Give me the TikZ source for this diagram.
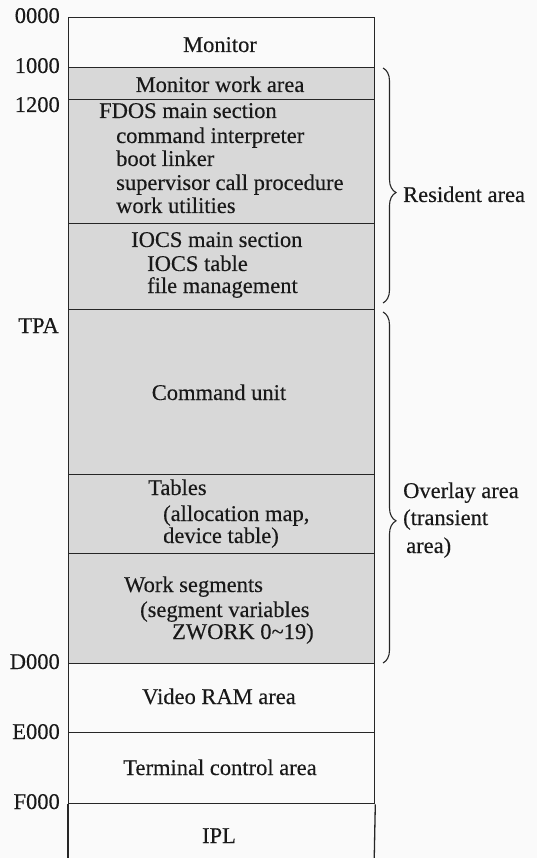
\documentclass[tikz,border=0pt]{standalone}
\usepackage{fontspec}
\setmainfont{Liberation Serif}[FakeBold=0.25]
\usetikzlibrary{decorations.pathreplacing}
\definecolor{ink}{HTML}{262626}
\definecolor{shade}{HTML}{D8D8D8}
\definecolor{paper}{HTML}{FAFAFA}
\begin{document}
\begin{tikzpicture}[x=1pt,y=-1pt,
  seg/.style={draw=ink, line width=1.3pt, inner sep=0pt, anchor=north west,
    minimum width=306pt},
  resident/.style={seg, fill=shade},
  txt/.style={text=black!90, inner sep=0pt, font=\fontsize{22.5}{23.7}\selectfont},
  addr/.style={txt, anchor=base east},
  ctext/.style={txt, anchor=base},
  ltext/.style={txt, anchor=base west},
  bracket/.style={draw=ink, line width=1.1pt,
    decorate, decoration={brace, amplitude=13pt}}]
\fill[paper] (0,0) rectangle (537,858);
\useasboundingbox (0,0) rectangle (537,858);

% memory segments, top to bottom
\node[seg, minimum height=50pt]       (mon)  at (68,17)  {};
\node[resident, minimum height=32pt]  (monw) at (68,67)  {};
\node[resident, minimum height=124pt] (fdos) at (68,99)  {};
\node[resident, minimum height=86pt]  (iocs) at (68,223) {};
\node[resident, minimum height=165pt] (cmd)  at (68,309) {};
\node[resident, minimum height=79pt]  (tab)  at (68,474) {};
\node[resident, minimum height=110pt] (ws)   at (68,553) {};
\node[seg, minimum height=69pt]       (vram) at (68,663) {};
\node[seg, minimum height=71pt]       (term) at (68,732) {};
% last segment runs off the bottom edge: only its sides are drawn
\coordinate (iplA) at (68,870);
\coordinate (iplB) at (374,870);
\draw[ink, line width=1.3pt] (term.south west) -- (iplA);
\draw[ink, line width=1.3pt] (term.south east) -- (iplB);

% addresses
\node[addr] (a0000) at (60,23)  {0000};
\node[addr] (a1000) at (60,73)  {1000};
\node[addr] (a1200) at (60,112) {1200};
\node[addr] (atpa)  at (59,333) {TPA};
\node[addr] (ad000) at (60,669) {D000};
\node[addr] (ae000) at (60,739) {E000};
\node[addr] (af000) at (60,809) {F000};

% segment contents
\node[ctext] (tmon)  at (220,52) {Monitor};
\node[ctext] (tmonw) at (220,92) {Monitor work area};

\node[ltext] (tf1) at (99,118)  {FDOS main section};
\node[ltext] (tf2) at (116,143) {command interpreter};
\node[ltext] (tf3) at (116,166) {boot linker};
\node[ltext] (tf4) at (116,190) {supervisor call procedure};
\node[ltext] (tf5) at (116,213) {work utilities};

\node[ltext] (ti1) at (131,247) {IOCS main section};
\node[ltext] (ti2) at (147,271) {IOCS table};
\node[ltext] (ti3) at (147,293) {file management};

\node[ctext] (tcmd) at (219,400) {Command unit};

\node[ltext] (tt1) at (148,495) {Tables};
\node[ltext] (tt2) at (163,521) {(allocation map,};
\node[ltext] (tt3) at (163,543) {device table)};

\node[ltext] (tw1) at (124,592) {Work segments};
\node[ltext] (tw2) at (140,617) {(segment variables};
\node[ltext] (tw3) at (172,639) {ZWORK 0\textasciitilde19)};

\node[ctext] (tvram) at (219,704) {Video RAM area};
\node[ctext] (tterm) at (220,775) {Terminal control area};
\node[ctext] (tipl)  at (219,843) {IPL};

% area braces
\coordinate (rtop) at (383,68);
\coordinate (rbot) at (383,303);
\coordinate (otop) at (383,312);
\coordinate (obot) at (383,663);
\draw[bracket, decoration={aspect=0.53}] (rtop) -- (rbot);
\draw[bracket, decoration={aspect=0.595}] (otop) -- (obot);

\node[ltext] (lres) at (403,202) {Resident area};
\node[ltext] (lov1) at (403,498) {Overlay area};
\node[ltext] (lov2) at (403,525) {(transient};
\node[ltext] (lov3) at (406,553) {area)};
\end{tikzpicture}
\end{document}
